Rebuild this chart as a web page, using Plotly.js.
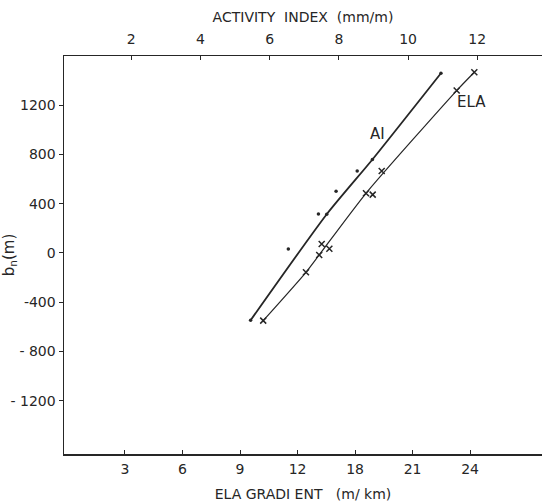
<!DOCTYPE html>
<html>
<head>
<meta charset="utf-8">
<script src="https://cdn.plot.ly/plotly-3.0.1.min.js"></script>
<style>html,body{margin:0;padding:0;background:#fff;}#chart{width:542px;height:502px;}</style>
</head>
<body>
<div id="chart"></div>
<script>
// Activity index series (top axis, mm/m) vs balance bn (m)
const aiX = [5.45, 6.54, 7.41, 7.65, 7.92, 8.53, 8.97, 10.95];
const aiY = [-547, 32, 317, 315, 502, 667, 760, 1461];
// AI curve drawn through the data
const aiLineX = [5.45, 7.65, 8.97, 10.95];
const aiLineY = [-547, 315, 760, 1461];

// ELA gradient series (bottom axis positions) vs balance bn (m)
const elaX = [10.21, 12.44, 13.13, 13.26, 13.66, 15.57, 15.92, 16.39, 20.30, 21.22];
const elaY = [-550, -157, -16, 73, 35, 485, 474, 667, 1320, 1469];
const elaLineX = [10.21, 12.44, 13.13, 15.57, 20.30, 21.22];
const elaLineY = [-550, -157, -16, 485, 1320, 1469];

// Tick labels
const bottomTickVals = [3, 6, 9, 12, 15, 18, 21];
const bottomTickText = ['3', '6', '9', '12', '18', '21', '24'];
const topTickVals = [2, 4, 6, 8, 10, 12];
const yTickVals = [1200, 800, 400, 0, -400, -800, -1200];
const yTickText = ['1200', '800', '400', '0', '-400', '- 800', '- 1200'];

const ink = '#262626';
const fontFam = '"DejaVu Sans", "Noto Sans", sans-serif';

const traces = [
  {x: aiLineX, y: aiLineY, xaxis: 'x2', yaxis: 'y', mode: 'lines',
   line: {color: ink, width: 1.8, shape: 'spline', smoothing: 0.6}, hoverinfo: 'skip'},
  {x: aiX, y: aiY, xaxis: 'x2', yaxis: 'y', mode: 'markers',
   marker: {color: ink, size: 3.5, symbol: 'circle'}},
  {x: elaLineX, y: elaLineY, xaxis: 'x', yaxis: 'y', mode: 'lines',
   line: {color: ink, width: 1.2, shape: 'spline', smoothing: 0.6}, hoverinfo: 'skip'},
  {x: elaX, y: elaY, xaxis: 'x', yaxis: 'y', mode: 'markers',
   marker: {color: ink, size: 6, symbol: 'x-thin', line: {color: ink, width: 1.5}}}
];

const layout = {
  width: 542, height: 502,
  margin: {l: 64, r: 0, t: 56, b: 48},
  paper_bgcolor: '#fff', plot_bgcolor: '#fff',
  showlegend: false,
  font: {family: fontFam, color: ink, size: 14},
  xaxis: {
    range: [-0.18, 24.75], showgrid: false, zeroline: false,
    showline: true, linecolor: ink, linewidth: 1.5,
    ticks: 'inside', ticklen: 4, tickwidth: 1, tickcolor: ink,
    tickmode: 'array', tickvals: bottomTickVals, ticktext: bottomTickText,
    ticklabelstandoff: 2,
    tickfont: {size: 14, family: fontFam, color: ink},
    title: {text: 'ELA GRADI ENT \u00a0\u00a0(m/ km)', font: {size: 14, family: fontFam, color: ink}, standoff: 13}
  },
  xaxis2: {
    overlaying: 'x', side: 'top', anchor: 'y',
    range: [0.058, 13.87], showgrid: false, zeroline: false,
    showline: true, linecolor: ink, linewidth: 1.5,
    ticks: 'inside', ticklen: 4, tickwidth: 1, tickcolor: ink,
    tickmode: 'array', tickvals: topTickVals,
    ticklabelstandoff: 5,
    tickfont: {size: 14, family: fontFam, color: ink},
    title: {text: 'ACTIVITY \u00a0INDEX \u00a0(mm/m)', font: {size: 14, family: fontFam, color: ink}, standoff: 5}
  },
  yaxis: {
    range: [-1634, 1601], showgrid: false, zeroline: false,
    showline: true, linecolor: ink, linewidth: 1.5,
    ticks: 'outside', ticklen: 4, tickwidth: 1, tickcolor: ink,
    tickmode: 'array', tickvals: yTickVals, ticktext: yTickText,
    tickfont: {size: 14, family: fontFam, color: ink},
    title: {text: 'b<sub>n</sub>(m)', font: {size: 15, family: fontFam, color: ink}, standoff: 2}
  },
  annotations: [
    {text: 'AI', xref: 'x2', yref: 'y', x: 9.13, y: 967, showarrow: false,
     font: {size: 15, family: fontFam, color: ink}},
    {text: 'ELA', xref: 'x', yref: 'y', x: 21.09, y: 1230, showarrow: false,
     font: {size: 15, family: fontFam, color: ink}}
  ]
};

Plotly.newPlot('chart', traces, layout, {displayModeBar: false, staticPlot: true});
</script>
</body>
</html>
